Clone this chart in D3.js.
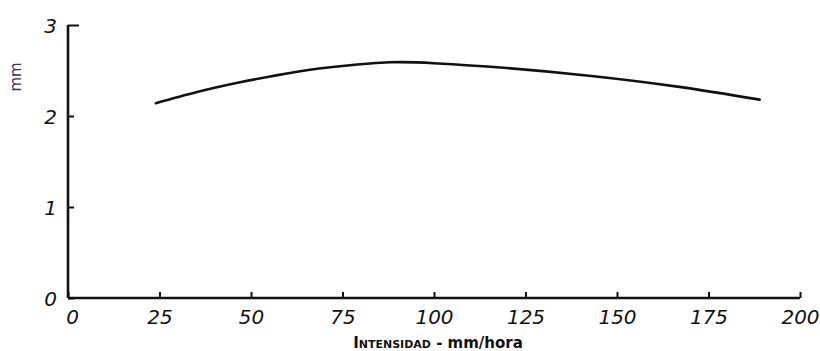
<!DOCTYPE html>
<html>
<head>
<meta charset="utf-8">
<script src="https://cdn.jsdelivr.net/npm/d3@7"></script>
<style>
  html, body { margin: 0; padding: 0; background: #fff; }
  svg { display: block; }
</style>
</head>
<body>
<div id="chart"></div>
<script>
// Data
const intensidad = [24, 35, 47, 63, 75, 88, 100, 119, 143, 167, 189];
const diametro   = [2.14, 2.26, 2.37, 2.49, 2.55, 2.59, 2.58, 2.53, 2.44, 2.32, 2.18];
const xTicks = [0, 25, 50, 75, 100, 125, 150, 175, 200];
const yTicks = [0, 1, 2, 3];
const yLabel = "mm";
const xLabelCaps = "Intensidad";
const xLabelRest = " - mm/hora";

const W = 820, H = 351;
const svg = d3.select("#chart").append("svg").attr("width", W).attr("height", H);

const x = d3.scaleLinear().domain([0, 200]).range([68, 800]);
const y = d3.scaleLinear().domain([0, 3]).range([298, 25]);

const labelFont = "'DejaVu Sans', sans-serif";

// X axis
const xAxis = d3.axisBottom(x).tickValues(xTicks).tickSize(-6).tickFormat(d3.format("d")).tickPadding(14);
const gx = svg.append("g").attr("transform", `translate(0,${y(0)})`).call(xAxis);
gx.select(".domain").attr("stroke", "#111").attr("stroke-width", 2.6).attr("d", `M${x(0)},0H${x(200)}`);
gx.selectAll(".tick line").attr("stroke", "#111").attr("stroke-width", 2);
gx.selectAll(".tick text")
  .attr("fill", "#111")
  .attr("font-family", labelFont)
  .attr("font-style", "italic")
  .attr("font-size", 20)
  .attr("dy", "0.62em")
  .attr("dx", d => d === 0 ? 4 : 0);

// Y axis
const yAxis = d3.axisLeft(y).tickValues(yTicks).tickSize(-6).tickFormat(d3.format("d")).tickPadding(11);
const gy = svg.append("g").attr("transform", `translate(${x(0)},0)`).call(yAxis);
gy.select(".domain").attr("stroke", "#111").attr("stroke-width", 2.6).attr("d", `M0,${y(0)}V${y(3)}`);
gy.selectAll(".tick line").attr("stroke", "#111").attr("stroke-width", 2)
  .attr("x2", d => d === 3 ? 11 : 6);
gy.selectAll(".tick text")
  .attr("fill", "#111")
  .attr("font-family", labelFont)
  .attr("font-style", "italic")
  .attr("font-size", 20)
  .attr("dy", "0.36em");

// Curve
const line = d3.line()
  .x((d, i) => x(intensidad[i]))
  .y(d => y(d))
  .curve(d3.curveNatural);
svg.append("path")
  .datum(diametro)
  .attr("fill", "none")
  .attr("stroke", "#111")
  .attr("stroke-width", 2.6)
  .attr("stroke-linecap", "round")
  .attr("d", line);

// Y label
svg.append("text")
  .attr("transform", `translate(21,77) rotate(-90)`)
  .attr("text-anchor", "middle")
  .attr("font-family", "'DejaVu Sans', sans-serif")
  .attr("font-size", 15)
  .attr("fill", "#3d2f5e")
  .text(yLabel);

// X label
const xl = svg.append("text")
  .attr("x", 438)
  .attr("y", 348)
  .attr("text-anchor", "middle")
  .attr("font-family", "'DejaVu Sans', sans-serif")
  .attr("font-weight", "bold")
  .attr("font-size", 15)
  .attr("fill", "#111");
xl.append("tspan").attr("font-variant", "small-caps").text(xLabelCaps);
xl.append("tspan").text(xLabelRest);
</script>
</body>
</html>
